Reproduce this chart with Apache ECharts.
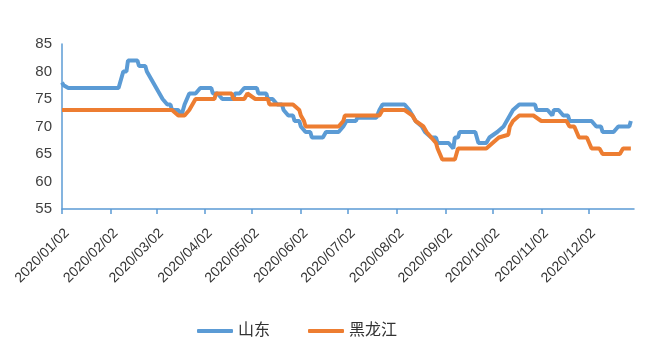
<!DOCTYPE html>
<html>
<head>
<meta charset="utf-8">
<script src="https://cdn.jsdelivr.net/npm/echarts@6/dist/echarts.min.js"></script>
<style>
  html, body { margin: 0; padding: 0; background: #fff; }
  #chart { width: 650px; height: 351px; }
</style>
</head>
<body>
<div id="chart"></div>
<script>
// series names
var seriesNames = ['山东', '黑龙江'];

// y axis range
var yMin = 55, yMax = 85, yStep = 5;

// 山东: [date, price] at the turning points
var shandong = [
	['2020/01/02', 78], ['2020/01/03', 77.5], ['2020/01/06', 77], ['2020/02/07', 77],
	['2020/02/10', 80], ['2020/02/12', 80], ['2020/02/13', 82], ['2020/02/19', 82],
	['2020/02/20', 81], ['2020/02/24', 81], ['2020/02/25', 80], ['2020/02/26', 80],
	['2020/02/27', 79], ['2020/02/28', 79], ['2020/03/02', 77], ['2020/03/04', 76],
	['2020/03/06', 75], ['2020/03/09', 74], ['2020/03/11', 74], ['2020/03/12', 73],
	['2020/03/16', 73], ['2020/03/18', 72], ['2020/03/20', 74], ['2020/03/23', 76],
	['2020/03/27', 76], ['2020/03/30', 77], ['2020/04/06', 77], ['2020/04/07', 76],
	['2020/04/10', 76], ['2020/04/13', 75], ['2020/04/20', 75], ['2020/04/21', 76],
	['2020/04/24', 76], ['2020/04/27', 77], ['2020/05/05', 77], ['2020/05/06', 76],
	['2020/05/11', 76], ['2020/05/12', 75], ['2020/05/15', 75], ['2020/05/18', 74],
	['2020/05/21', 74], ['2020/05/22', 73], ['2020/05/25', 72], ['2020/05/28', 72],
	['2020/05/29', 71], ['2020/06/01', 71], ['2020/06/02', 70], ['2020/06/03', 70],
	['2020/06/05', 69], ['2020/06/08', 69], ['2020/06/09', 68], ['2020/06/16', 68],
	['2020/06/18', 69], ['2020/06/26', 69], ['2020/06/29', 70], ['2020/06/30', 70],
	['2020/07/01', 71], ['2020/07/07', 71], ['2020/07/08', 71.6], ['2020/07/20', 71.6],
	['2020/07/22', 73], ['2020/07/24', 74], ['2020/08/07', 74], ['2020/08/10', 73],
	['2020/08/12', 72], ['2020/08/14', 71], ['2020/08/18', 70], ['2020/08/20', 69],
	['2020/08/24', 68], ['2020/08/27', 68], ['2020/08/28', 67], ['2020/09/04', 67],
	['2020/09/07', 66], ['2020/09/08', 68], ['2020/09/10', 68], ['2020/09/11', 69],
	['2020/09/21', 69], ['2020/09/23', 67], ['2020/09/28', 67], ['2020/09/30', 68],
	['2020/10/05', 69], ['2020/10/09', 70], ['2020/10/13', 72], ['2020/10/15', 73],
	['2020/10/19', 74], ['2020/10/29', 74], ['2020/10/30', 73], ['2020/11/06', 73],
	['2020/11/09', 72], ['2020/11/10', 73], ['2020/11/13', 73], ['2020/11/16', 72],
	['2020/11/19', 72], ['2020/11/20', 71], ['2020/12/04', 71], ['2020/12/07', 70],
	['2020/12/10', 70], ['2020/12/11', 69], ['2020/12/18', 69], ['2020/12/21', 70],
	['2020/12/28', 70], ['2020/12/29', 71]
];

// 黑龙江
var heilongjiang = [
	['2020/01/02', 73], ['2020/03/12', 73], ['2020/03/16', 72], ['2020/03/20', 72],
	['2020/03/23', 73], ['2020/03/25', 74], ['2020/03/27', 75], ['2020/04/08', 75],
	['2020/04/09', 76], ['2020/04/19', 76], ['2020/04/20', 75], ['2020/04/27', 75],
	['2020/04/29', 76], ['2020/05/04', 75], ['2020/05/12', 75], ['2020/05/13', 74],
	['2020/05/28', 74], ['2020/06/01', 73], ['2020/06/02', 72], ['2020/06/04', 71],
	['2020/06/05', 70], ['2020/06/26', 70], ['2020/06/29', 71], ['2020/06/30', 72],
	['2020/07/22', 72], ['2020/07/24', 73], ['2020/08/07', 73], ['2020/08/12', 72],
	['2020/08/14', 71], ['2020/08/19', 70], ['2020/08/21', 69], ['2020/08/24', 68],
	['2020/08/27', 67], ['2020/08/28', 66], ['2020/08/31', 64], ['2020/09/08', 64],
	['2020/09/10', 66], ['2020/09/28', 66], ['2020/10/02', 67], ['2020/10/06', 68],
	['2020/10/12', 68.5], ['2020/10/13', 70], ['2020/10/15', 71], ['2020/10/19', 72],
	['2020/10/28', 72], ['2020/11/02', 71], ['2020/11/18', 71], ['2020/11/20', 70],
	['2020/11/23', 70], ['2020/11/26', 68], ['2020/12/01', 68], ['2020/12/04', 66],
	['2020/12/09', 66], ['2020/12/11', 65], ['2020/12/22', 65], ['2020/12/24', 66],
	['2020/12/29', 66]
];

// every calendar day on the x axis, Excel style date axis
function buildDays(from, to) {
	var out = [];
	var d = new Date(Date.UTC(from[0], from[1] - 1, from[2]));
	var end = Date.UTC(to[0], to[1] - 1, to[2]);
	while (d.getTime() <= end) {
		var m = d.getUTCMonth() + 1, day = d.getUTCDate();
		out.push(d.getUTCFullYear() + '/' + (m < 10 ? '0' + m : m) + '/' + (day < 10 ? '0' + day : day));
		d.setUTCDate(d.getUTCDate() + 1);
	}
	return out;
}
var days = buildDays([2020, 1, 2], [2020, 12, 31]);

// show ticks and labels on the 2nd of each month
function onSecond(index, value) {
	return value.slice(-2) === '02';
}

var font = '"Liberation Sans", "Noto Sans CJK SC", sans-serif';
var axisBlue = '#5B9BD5';

var chart = echarts.init(document.getElementById('chart'));
chart.setOption({
	animation: false,
	color: ['#5B9BD5', '#ED7D31'],
	grid: { left: 62, top: 44, width: 572, height: 165 },
	legend: {
		data: seriesNames,
		icon: 'roundRect',
		left: 192,
		top: 318,
		itemWidth: 36,
		itemHeight: 4,
		itemGap: 38,
		textStyle: { fontFamily: font, fontSize: 16, color: '#333333' }
	},
	xAxis: {
		type: 'category',
		data: days,
		boundaryGap: false,
		axisLine: { lineStyle: { color: axisBlue, width: 1.5 } },
		axisTick: { interval: onSecond, length: 5, lineStyle: { color: axisBlue, width: 1.5 } },
		axisLabel: {
			interval: onSecond,
			rotate: 45,
			margin: 17,
			align: 'right',
			verticalAlign: 'top',
			fontFamily: font,
			fontSize: 14,
			color: '#333333'
		},
		splitLine: { show: false }
	},
	yAxis: {
		type: 'value',
		min: yMin,
		max: yMax,
		interval: yStep,
		axisLine: { show: true, lineStyle: { color: axisBlue, width: 1.5 } },
		axisTick: { show: false },
		axisLabel: { margin: 10, fontFamily: font, fontSize: 15, color: '#404040' },
		splitLine: { show: false }
	},
	series: [
		{ name: seriesNames[0], type: 'line', data: shandong, symbol: 'none', lineStyle: { width: 4 } },
		{ name: seriesNames[1], type: 'line', data: heilongjiang, symbol: 'none', lineStyle: { width: 4 } }
	]
});
</script>
</body>
</html>
